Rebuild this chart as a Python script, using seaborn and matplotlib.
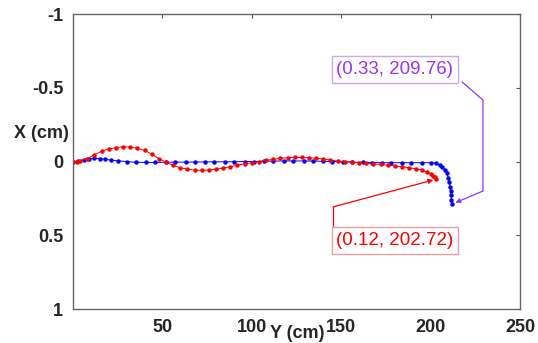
import numpy as np
import pandas as pd
import matplotlib
matplotlib.use('Agg')
import matplotlib.pyplot as plt
import seaborn as sns

# red trajectory (Y in cm along x-axis, X in cm along y-axis)
red_y = [0, 2, 4, 8, 12, 16, 20, 24, 28, 32, 36, 40, 44, 48, 52, 56, 60, 64, 68,
         72, 76, 80, 84, 88, 92, 96, 100, 104, 108, 112, 116, 120, 124, 128, 132,
         136, 140, 144, 148, 152, 156, 160, 164, 168, 172, 176, 180, 184, 188,
         192, 195, 198, 200, 201.5, 202.5, 203]
red_x = [0, 0.0, -0.005, -0.02, -0.045, -0.07, -0.085, -0.095, -0.1, -0.098,
         -0.09, -0.075, -0.05, -0.02, 0.005, 0.025, 0.042, 0.052, 0.058, 0.06,
         0.058, 0.052, 0.045, 0.035, 0.025, 0.015, 0.008, 0.0, -0.008, -0.015,
         -0.022, -0.026, -0.028, -0.028, -0.026, -0.022, -0.017, -0.01, -0.004,
         0.0, 0.005, 0.008, 0.012, 0.016, 0.02, 0.025, 0.03, 0.035, 0.042, 0.05,
         0.058, 0.07, 0.082, 0.095, 0.108, 0.12]

# blue trajectory
blue_y = [0, 3, 6, 9, 12, 15, 18, 21, 25, 30, 35, 41, 46, 52, 57, 63, 68, 74, 79,
          85, 90, 96, 101, 107, 112, 118, 123, 129, 134, 140, 145, 151, 156, 162,
          167, 173, 178, 184, 189, 195, 200, 203, 205, 206.5, 208, 209, 210,
          210.5, 211, 211.3, 211.5, 211.6, 211.7]
blue_x = [0, -0.005, -0.012, -0.018, -0.022, -0.02, -0.015, -0.01, -0.005, 0.0,
          0.005, 0.006, 0.006, 0.005, 0.004, 0.004, 0.003, 0.003, 0.002, 0.002,
          0.001, 0.0, 0.0, -0.002, -0.003, -0.004, -0.004, -0.004, -0.003,
          -0.002, 0.0, 0.002, 0.004, 0.006, 0.007, 0.008, 0.008, 0.008, 0.008,
          0.008, 0.008, 0.012, 0.022, 0.035, 0.055, 0.08, 0.11, 0.14, 0.17, 0.2,
          0.23, 0.26, 0.29]

x_ticks = [50, 100, 150, 200, 250]
y_ticks = [-1, -0.5, 0, 0.5, 1]
y_tick_labels = ['-1', '-0.5', '0', '0.5', '1']

sns.set_style('white')
plt.rcParams['font.family'] = ['Liberation Sans', 'DejaVu Sans']

fig = plt.figure(figsize=(5.38, 3.43), dpi=100)
ax = fig.add_axes([0.1357, 0.0991, 0.8308, 0.8599])

df_red = pd.DataFrame({'Y': red_y, 'X': red_x})
df_blue = pd.DataFrame({'Y': blue_y, 'X': blue_x})

sns.lineplot(data=df_blue, x='Y', y='X', sort=False, ax=ax, color='#0000ff',
             marker='o', markersize=3.2, markeredgewidth=0, linewidth=0.7)
sns.lineplot(data=df_red, x='Y', y='X', sort=False, ax=ax, color='#ff0000',
             marker='o', markersize=3.2, markeredgewidth=0, linewidth=0.7)

ax.set_xlim(0, 250)
ax.set_ylim(1, -1)
ax.set_xticks(x_ticks)
ax.set_yticks(y_ticks)
ax.set_yticklabels(y_tick_labels)
ax.tick_params(direction='in', length=3, width=0.8, color='#555555',
               top=True, right=True, labelsize=13, pad=7)
for lab in ax.get_xticklabels() + ax.get_yticklabels():
    lab.set_fontweight('bold')
for s in ax.spines.values():
    s.set_color('#666666')
    s.set_linewidth(1.0)

ax.set_xlabel('')
ax.set_ylabel('')
fig.text(297 / 538, 1 - 334 / 343, 'Y (cm)', fontsize=13,
         fontweight='bold', ha='center', va='center')
fig.text(41 / 538, 1 - 134 / 343, 'X (cm)', fontsize=13,
         fontweight='bold', ha='center', va='center')

# purple data tip
purple = '#9933ff'
ax.plot([217.6, 229.3, 229.3], [-0.54, -0.417, 0.2], color=purple, lw=0.9,
        clip_on=False)
ax.annotate('', xy=(211.7, 0.29), xytext=(229.3, 0.2),
            arrowprops=dict(arrowstyle='-|>', color=purple, lw=0.9,
                            mutation_scale=7, shrinkA=0, shrinkB=3))
ax.text(180, -0.625, '(0.33, 209.76)', color=purple, fontsize=13.5,
        ha='center', va='center',
        bbox=dict(boxstyle='square,pad=0.25', fc='white', ec='#c9a8f0', lw=1))

# red data tip
red = '#ff0000'
ax.plot([145.4, 145.4], [0.444, 0.308], color=red, lw=0.9)
ax.annotate('', xy=(203, 0.12), xytext=(145.4, 0.308),
            arrowprops=dict(arrowstyle='-|>', color=red, lw=0.9,
                            mutation_scale=7, shrinkA=0, shrinkB=2))
ax.text(180, 0.535, '(0.12, 202.72)', color=red, fontsize=13.5,
        ha='center', va='center',
        bbox=dict(boxstyle='square,pad=0.25', fc='white', ec='#e8a0a0', lw=1))

fig.savefig('out.png', dpi=100)
